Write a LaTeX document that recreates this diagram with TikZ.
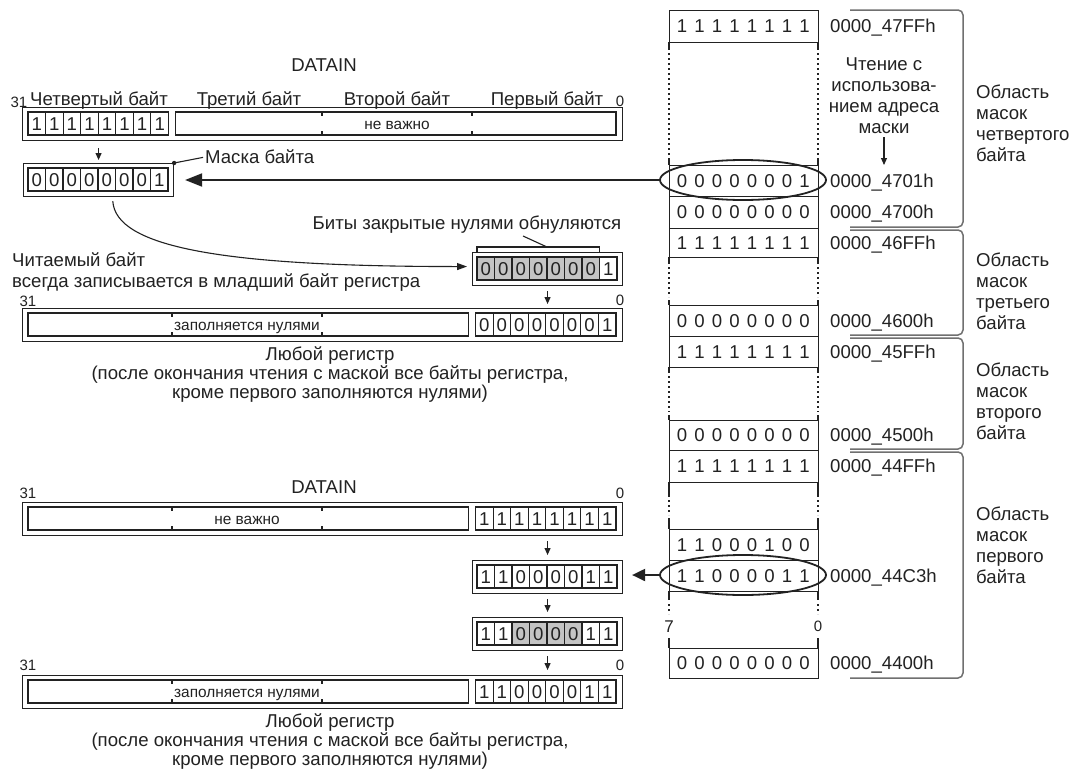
\documentclass[tikz,border=0pt]{standalone}
\usepackage{fontspec}
\setmainfont{Liberation Sans}
\usetikzlibrary{arrows.meta,shapes.geometric}
\definecolor{ink}{HTML}{222222}
\definecolor{cellgray}{HTML}{C4C4C4}
\definecolor{brkgray}{HTML}{707070}
\tikzset{
  ln/.style={draw=ink, line width=1.1pt},
  outerbox/.style={ln, rectangle, inner sep=0pt, anchor=north west},
  txt/.style={inner sep=0pt, text=ink, font=\fontsize{18.6}{21}\selectfont, text height=13.3pt, text depth=0pt},
  small/.style={inner sep=0pt, text=ink, font=\fontsize{15.4}{18}\selectfont, text height=11pt, text depth=0pt},
  bitno/.style={inner sep=0pt, text=ink, font=\fontsize{15}{16}\selectfont, text height=10.7pt, text depth=0pt},
  multi/.style={inner sep=0pt, text=ink, font=\fontsize{18.6}{21}\selectfont},
  multib/.style={inner sep=0pt, text=ink, font=\fontsize{18.6}{19.2}\selectfont},
  sarr/.style={draw=ink, line width=1.1pt, -{Triangle[length=7pt,width=6pt]}},
  bigarr/.style={draw=ink, line width=2pt, -{Triangle[length=17pt,width=13pt]}},
  ell/.style={ellipse, draw=ink, line width=1.8pt, inner sep=0pt},
  brk/.style={draw=brkgray, line width=1.5pt, rounded corners=5pt},
  dots/.style={draw=ink, line width=1.1pt, dash pattern=on 1.6pt off 3.4pt},
}
\newcommand\cellrow[6]{%
  \foreach \dg/\cl [count=\ci] in {#6}{%
    \pgfmathsetmacro\xa{(#2)+((#3)-(#2))*(\ci-1)/8}%
    \pgfmathsetmacro\xb{(#2)+((#3)-(#2))*\ci/8}%
    \pgfmathsetmacro\ym{((#4)+(#5))/2}%
    \draw[ln, fill=\cl] (\xa,#4) rectangle (\xb,#5);
    \node[txt] (#1-\ci) at ({(\xa+\xb)/2},\ym) {\dg};
  }%
}
\newcommand\tickmark[3]{\draw[ln] (#1,#2) -- ++(0,4) (#1,#3) -- ++(0,-4);}
\newcommand\bytebox[4]{%
  \node[outerbox, minimum width=150pt, minimum height=33pt] (#1) at (#2,#3) {};
  \cellrow{#1c}{#2+5}{#2+145}{#3+5}{#3+28}{#4}%
}
\newcommand\regbox[4]{%
  \node[outerbox, minimum width=600pt, minimum height=33pt] (#1) at (22,#2) {};
  \draw[ln] (28,#2+5) rectangle (468.5,#2+28);
  \tickmark{172}{#2+5}{#2+28}\tickmark{322}{#2+5}{#2+28}
  \node[small] (#1-lbl) at (247,#2+16.5) {#3};
  \cellrow{#1c}{475.5}{616}{#2+5}{#2+28}{#4}%
}
\newcommand\memrow[5]{%
  \pgfmathsetmacro\hh{(#3)-(#2)}%
  \pgfmathsetmacro\ymm{((#2)+(#3))/2}%
  \node[ln, rectangle, inner sep=0pt, minimum width=149pt, minimum height=\hh pt, anchor=north west] (#1) at (669,#2) {};
  \foreach \dg [count=\ci] in {#4}{\node[txt] (#1-\ci) at ({682+17.5*(\ci-1)},\ymm) {\dg};}
  \node[txt, anchor=west] (#1-adr) at (830,\ymm) {#5};
}
\newcommand\vgap[4]{%
  \foreach \vx in {669,818}{%
    \draw[ln] (\vx,#1) -- (\vx,#2);
    \draw[dots] (\vx,#2+3) -- (\vx,#3-3);
    \draw[ln] (\vx,#3) -- (\vx,#4);
  }%
}
\begin{document}
\begin{tikzpicture}[x=1pt,y=-1pt]
\useasboundingbox[fill=white] (0,0) rectangle (1076,771);

% ---------- top section ----------
\node[txt] (t-din1) at (324,65) {DATAIN};
\node[bitno] (n31a) at (19,102) {31};
\node[bitno] (n0a) at (620,101) {0};
\node[txt] (by4) at (99,99) {Четвертый байт};
\node[txt] (by3) at (249,99) {Третий байт};
\node[txt] (by2) at (397,99) {Второй байт};
\node[txt] (by1) at (547,99) {Первый байт};

\node[outerbox, minimum width=600pt, minimum height=33pt] (din1) at (22,107) {};
\cellrow{din1c}{28}{168.5}{112}{135}{1/white,1/white,1/white,1/white,1/white,1/white,1/white,1/white}
\draw[ln] (175.5,112) rectangle (616,135);
\tickmark{322}{112}{135}\tickmark{472}{112}{135}
\node[small] (din1-lbl) at (397,123.5) {не важно};

\bytebox{mask}{23}{163}{0/white,0/white,0/white,0/white,0/white,0/white,0/white,1/white}
\draw[sarr, shorten <=7pt, shorten >=3pt] (din1.south -| mask.north) -- (mask.north);
\node[txt, anchor=west] (mlbl) at (205,157) {Маска байта};
\fill[ink] (mask.north east) circle (2.2pt);
\draw[ln, shorten >=2pt] (mask.north east) -- (mlbl.west);

\node[txt] (bits) at (467,223) {Биты закрытые нулями обнуляются};
\bytebox{gbox1}{472}{252}{0/cellgray,0/cellgray,0/cellgray,0/cellgray,0/cellgray,0/cellgray,0/cellgray,1/white}
\draw[ln] (477,252) -- (477,247) -- (599.5,247) -- (599.5,252);
\coordinate (bmid) at (547,247);
\coordinate (bptr) at (523,236);
\draw[ln] (bmid) -- (bptr);

\node[multi, align=left, anchor=north west] (readtxt) at (12,252) {Читаемый байт\\всегда записывается в младший байт регистра};
\draw[ln, -{Triangle[length=10pt,width=7pt]}, shorten <=4pt, shorten >=5pt]
  ([xshift=14pt]mask.south) .. controls +(3,50) and +(-250,0) .. ([yshift=2.5pt]gbox1.west);

\node[bitno] (n31b) at (28,301) {31};
\node[bitno] (n0b) at (620,300) {0};
\regbox{reg1}{308}{заполняется нулями}{0/white,0/white,0/white,0/white,0/white,0/white,0/white,1/white}
\draw[sarr, shorten <=5pt, shorten >=4pt] (gbox1.south) -- (reg1.north -| gbox1.south);
\node[multib, align=center, anchor=north] (anyreg1) at (330,346) {Любой регистр\\(после окончания чтения с маской все байты регистра,\\кроме первого заполняются нулями)};

% ---------- bottom section ----------
\node[txt] (t-din2) at (324,487) {DATAIN};
\node[bitno] (n31c) at (28,493) {31};
\node[bitno] (n0c) at (620,493) {0};
\regbox{din2}{502}{не важно}{1/white,1/white,1/white,1/white,1/white,1/white,1/white,1/white}
\bytebox{box11}{472}{560}{1/white,1/white,0/white,0/white,0/white,0/white,1/white,1/white}
\draw[sarr, shorten <=5pt, shorten >=5pt] (din2.south -| box11.north) -- (box11.north);
\bytebox{gbox2}{472}{617}{1/white,1/white,0/cellgray,0/cellgray,0/cellgray,0/cellgray,1/white,1/white}
\draw[sarr, shorten <=5pt, shorten >=5pt] (box11.south) -- (gbox2.north);
\node[bitno] (n31d) at (28,665) {31};
\node[bitno] (n0d) at (620,665) {0};
\regbox{reg2}{675}{заполняется нулями}{1/white,1/white,0/white,0/white,0/white,0/white,1/white,1/white}
\draw[sarr, shorten <=5pt, shorten >=5pt] (gbox2.south) -- (reg2.north -| gbox2.south);
\node[multib, align=center, anchor=north] (anyreg2) at (330,713.5) {Любой регистр\\(после окончания чтения с маской все байты регистра,\\кроме первого заполняются нулями)};

% ---------- memory column ----------
\memrow{r47FF}{10}{42}{1,1,1,1,1,1,1,1}{0000\_47FFh}
\vgap{42}{50}{158}{165}
\memrow{r4701}{165}{196}{0,0,0,0,0,0,0,1}{0000\_4701h}
\memrow{r4700}{196}{228}{0,0,0,0,0,0,0,0}{0000\_4700h}
\memrow{r46FF}{228}{257}{1,1,1,1,1,1,1,1}{0000\_46FFh}
\vgap{257}{264}{300}{305}
\memrow{r4600}{305}{336}{0,0,0,0,0,0,0,0}{0000\_4600h}
\memrow{r45FF}{336}{367}{1,1,1,1,1,1,1,1}{0000\_45FFh}
\vgap{367}{373}{415}{420}
\memrow{r4500}{420}{450}{0,0,0,0,0,0,0,0}{0000\_4500h}
\memrow{r44FF}{450}{482}{1,1,1,1,1,1,1,1}{0000\_44FFh}
\vgap{482}{497}{518}{529}
\memrow{r44C4}{529}{560}{1,1,0,0,0,1,0,0}{}
\memrow{r44C3}{560}{591}{1,1,0,0,0,0,1,1}{0000\_44C3h}
\foreach \vx in {669,818}{%
  \draw[ln] (\vx,591) -- (\vx,600);
  \draw[dots] (\vx,604) -- (\vx,614);
  \draw[ln] (\vx,638) -- (\vx,648);
}
\node[txt, font=\fontsize{17}{18}\selectfont, text height=12.2pt] (b7) at (669,626) {7};
\node[bitno] (b0) at (818,626) {0};
\memrow{r4400}{648}{678}{0,0,0,0,0,0,0,0}{0000\_4400h}

\node[multi, align=center, anchor=north] (rdtxt) at (884,58) {Чтение с\\использова-\\нием адреса\\маски};
\draw[sarr, shorten <=3pt] (rdtxt.south) -- (rdtxt.south |- r4701.north);

\node[ell, minimum width=166pt, minimum height=40pt] (ell1) at (743,180) {};
\node[ell, minimum width=166pt, minimum height=40pt] (ell2) at (743,575) {};
\draw[bigarr, shorten >=11pt] (ell1.west) -- (ell1.west -| mask.east);
\draw[draw=ink, line width=2pt, -{Triangle[length=13pt,width=12pt]}, shorten >=9pt] (ell2.west) -- (ell2.west -| box11.east);

% ---------- brackets ----------
\draw[brk] (850,10) -- (963,10) -- (963,227) -- (850,227);
\draw[brk] (850,230) -- (963,230) -- (963,335) -- (850,335);
\draw[brk] (850,338) -- (963,338) -- (963,449) -- (850,449);
\draw[brk] (850,452) -- (963,452) -- (963,678) -- (850,678);
\node[multi, align=left, anchor=north west] (ar4) at (976,85) {Область\\масок\\четвертого\\байта};
\node[multi, align=left, anchor=north west] (ar3) at (976,253) {Область\\масок\\третьего\\байта};
\node[multi, align=left, anchor=north west] (ar2) at (976,363) {Область\\масок\\второго\\байта};
\node[multi, align=left, anchor=north west] (ar1) at (976,507) {Область\\масок\\первого\\байта};
\end{tikzpicture}
\end{document}
